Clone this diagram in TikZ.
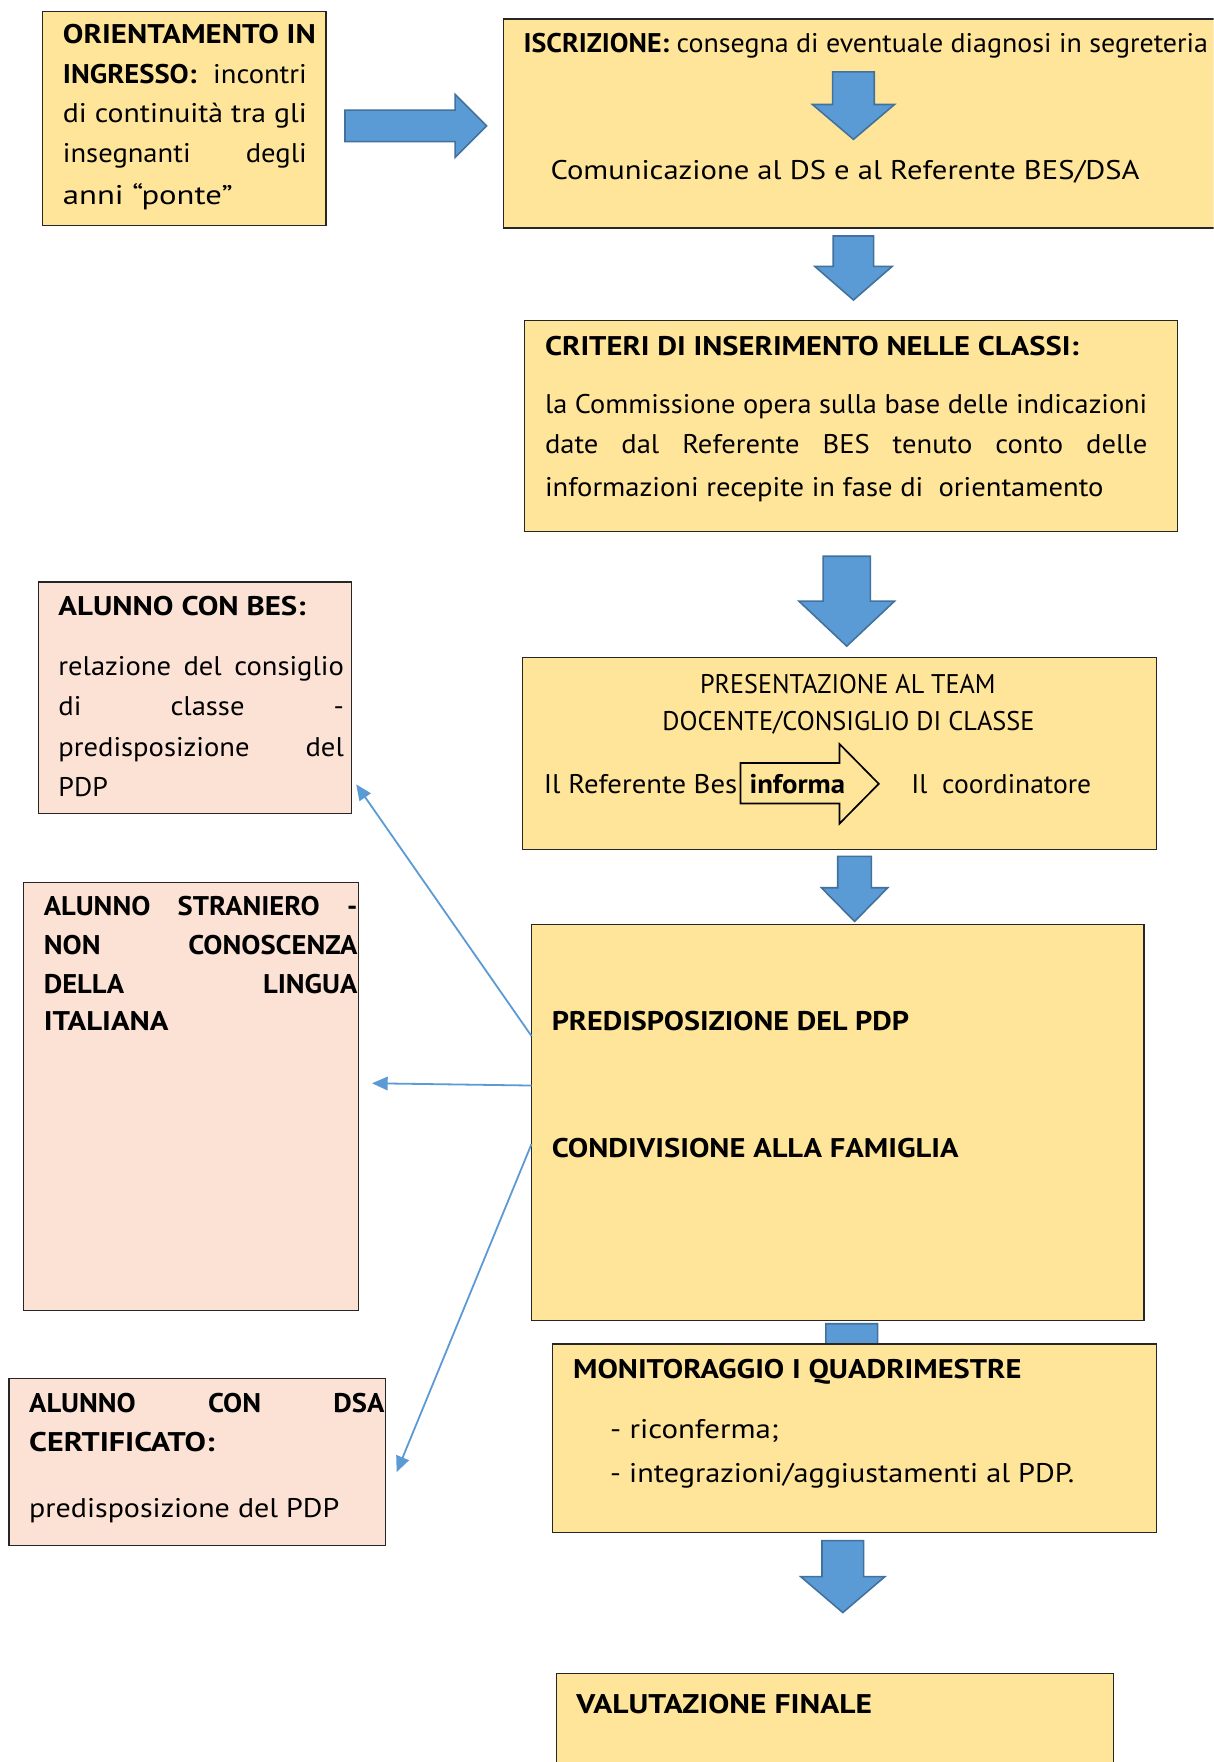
\documentclass[tikz,border=0pt]{standalone}
\usepackage{fontspec}
\setmainfont{PT Sans}
\usetikzlibrary{arrows.meta,calc}
\definecolor{boxyellow}{HTML}{FFE599}
\definecolor{boxpink}{HTML}{FBE2D5}
\definecolor{arrblue}{HTML}{5B9BD5}
\definecolor{arredge}{HTML}{41719C}
\newcommand\fitw[2]{\resizebox{#1pt}{\height}{#2}}
\newcommand\jst[2]{\resizebox{#1pt}{\height}{\makebox[\dimexpr #1pt*100/106\relax][s]{#2}}}
\newcommand\darrow[6]{%
  \draw[barrow] ({#1-#3},#2) -- ({#1+#3},#2) -- ({#1+#3},#5) -- ({#1+#4},#5) -- (#1,#6) -- ({#1-#4},#5) -- ({#1-#3},#5) -- cycle;}
\begin{document}
\begin{tikzpicture}[x=1pt,y=-1pt,
  ybox/.style={draw=black!85,line width=1.1pt,fill=boxyellow,inner sep=0pt,outer sep=0pt,anchor=north west},
  pbox/.style={ybox,fill=boxpink},
  txt/.style={inner sep=0pt,outer sep=0pt,anchor=base west,font=\fontsize{24}{28}\selectfont},
  barrow/.style={fill=arrblue,draw=arredge,line width=1.4pt,line join=miter},
  conn/.style={draw=arrblue,line width=1.6pt,-{Triangle[length=14pt,width=12pt]}},
]
\useasboundingbox (0,0) rectangle (1080,1568);
\fill[white] (0,0) rectangle (1080,1568);
\clip (0,0) rectangle (1080,1568);

% ORIENTAMENTO
\node[ybox,minimum width=252pt,minimum height=191pt] (orient) at (38,10) {};
\node[txt] (o1) at (56,39) {\fitw{225}{\bfseries ORIENTAMENTO IN}};
\node[txt] (o2) at (56,74) {\jst{217}{\textbf{INGRESSO:} incontri}};
\node[txt] (o3) at (56,109) {\fitw{217}{di continuità tra gli}};
\node[txt] (o4) at (56,145) {\jst{217}{insegnanti degli}};
\node[txt] (o5) at (56,182) {\fitw{151}{anni “ponte”}};

\draw[barrow] (307,98) -- (405,98) -- (405,84) -- (433,112) -- (405,140) -- (405,126) -- (307,126) -- cycle;

% ISCRIZIONE
\node[ybox,minimum width=660pt,minimum height=186pt] (iscr) at (448,17) {};
\node[txt] (i1) at (466,47) {\fitw{609}{\textbf{ISCRIZIONE:} consegna di eventuale diagnosi in segreteria}};
\darrow{759.5}{64}{18.5}{36.5}{93}{124}
\node[txt] (i2) at (490,160) {\fitw{524}{Comunicazione al DS e al Referente BES/DSA}};

\darrow{759.5}{210}{18}{34.5}{237}{267}

% CRITERI
\node[ybox,minimum width=581pt,minimum height=188pt] (crit) at (467,285) {};
\node[txt] (c1) at (485,316) {\fitw{475}{\bfseries CRITERI DI INSERIMENTO NELLE CLASSI:}};
\node[txt] (c2) at (485,368) {\fitw{536}{la Commissione opera sulla base delle indicazioni}};
\node[txt] (c3) at (485,404) {\jst{536}{date dal Referente BES tenuto conto delle}};
\node[txt] (c4) at (485,442) {\fitw{497}{informazioni recepite in fase di\ \ orientamento}};

\darrow{753.5}{495}{21}{42.5}{535}{575}

% PRESENTAZIONE
\node[ybox,minimum width=564pt,minimum height=171pt] (pres) at (465,585) {};
\node[txt] (p1) at (623,617.5) {\fitw{263}{PRESENTAZIONE AL TEAM}};
\node[txt] (p2) at (589.5,650) {\fitw{331}{DOCENTE/CONSIGLIO DI CLASSE}};
\node[txt] (p3) at (484,706) {\fitw{172}{Il Referente Bes}};
\draw[line width=1.5pt,draw=black,line join=miter] (659,679) -- (747,679) -- (747,662) -- (782,697.5) -- (747,733) -- (747,715) -- (659,715) -- cycle;
\node[txt] (p4) at (667,706) {\fitw{85}{\bfseries informa}};
\node[txt] (p5) at (811,706) {\fitw{160}{Il\ \ coordinatore}};

\darrow{760.5}{762}{15}{29.5}{790}{820}

% PDP
\node[ybox,minimum width=545pt,minimum height=352pt] (pdp) at (473,823) {};
\node[txt] (d1) at (491,917) {\fitw{318}{\bfseries PREDISPOSIZIONE DEL PDP}};
\node[txt] (d2) at (491,1030) {\fitw{362}{\bfseries CONDIVISIONE ALLA FAMIGLIA}};

\darrow{758}{1178}{23}{35}{1215}{1245}

% MONITORAGGIO
\node[ybox,minimum width=537pt,minimum height=168pt] (mon) at (492,1196) {};
\node[txt] (m1) at (510,1227) {\fitw{399}{\bfseries MONITORAGGIO I QUADRIMESTRE}};
\node[txt] (m2) at (543,1280) {\fitw{150}{- riconferma;}};
\node[txt] (m3) at (543,1319) {\fitw{413}{- integrazioni/aggiustamenti al PDP.}};

\darrow{750}{1371}{18.5}{37.5}{1403}{1435}

% VALUTAZIONE
\node[ybox,minimum width=496pt,minimum height=100pt] (val) at (495,1489) {};
\node[txt] (v1) at (513,1525) {\fitw{263}{\bfseries VALUTAZIONE FINALE}};

% BES
\node[pbox,minimum width=279pt,minimum height=206pt] (bes) at (34,518) {};
\node[txt] (b1) at (52,548) {\fitw{220}{\bfseries ALUNNO CON BES:}};
\node[txt] (b2) at (52,601) {\jst{254}{relazione del consiglio}};
\node[txt] (b3) at (52,637) {\jst{254}{di classe -}};
\node[txt] (b4) at (52,673) {\jst{254}{predisposizione del}};
\node[txt] (b5) at (52,709) {\fitw{44}{PDP}};

% STRANIERO
\node[pbox,minimum width=298pt,minimum height=381pt] (stran) at (21,785) {};
\node[txt] (s1) at (39,815) {\jst{279}{\bfseries ALUNNO STRANIERO -}};
\node[txt] (s2) at (39,849) {\jst{279}{\bfseries NON CONOSCENZA}};
\node[txt] (s3) at (39,884) {\jst{279}{\bfseries DELLA LINGUA}};
\node[txt] (s4) at (39,917) {\fitw{111}{\bfseries ITALIANA}};

% DSA
\node[pbox,minimum width=335pt,minimum height=148pt] (dsa) at (8,1227) {};
\node[txt] (a1) at (26,1257) {\jst{316}{\bfseries ALUNNO CON DSA}};
\node[txt] (a2) at (26,1292) {\fitw{165}{\bfseries CERTIFICATO:}};
\node[txt] (a3) at (26,1350) {\fitw{276}{predisposizione del PDP}};

% connectors
\coordinate (stA) at ($(pdp.north west)+(0,99)$);
\coordinate (stB) at ($(pdp.north west)+(0,143)$);
\coordinate (stC) at ($(pdp.north west)+(0,195)$);
\coordinate (enA) at ($(bes.north east)+(4,180)$);
\coordinate (enB) at ($(stran.north east)+(12,179)$);
\coordinate (enC) at ($(dsa.north east)+(10,83)$);
\draw[conn] (stA) -- (enA);
\draw[conn] (stB) -- (enB);
\draw[conn] (stC) -- (enC);
\end{tikzpicture}
\end{document}
